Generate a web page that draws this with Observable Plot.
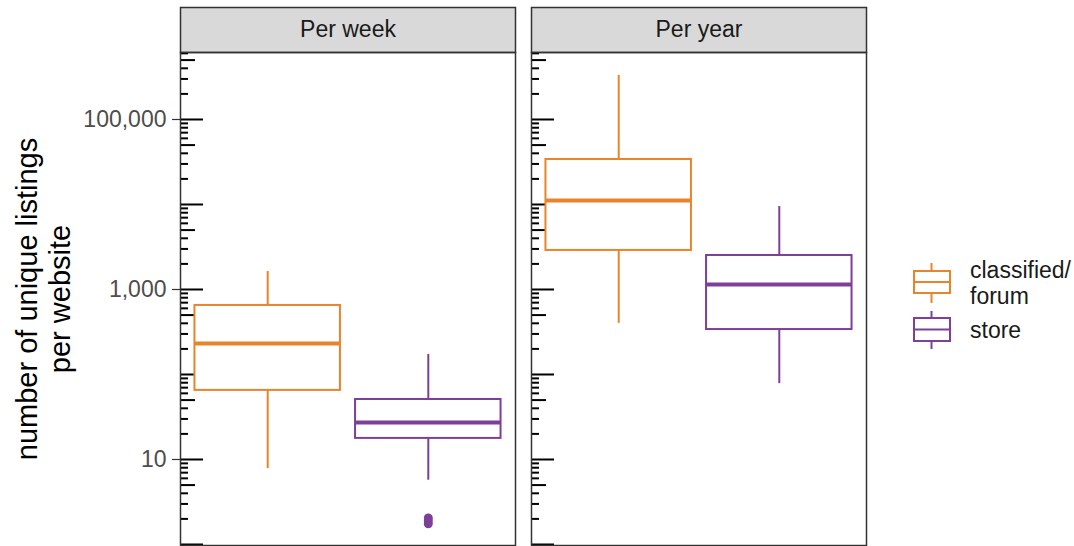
<!DOCTYPE html>
<html><head><meta charset="utf-8">
<script src="https://cdn.jsdelivr.net/npm/d3@7"></script>
<script src="https://cdn.jsdelivr.net/npm/@observablehq/plot@0.6"></script>
<style>
body{margin:0;background:#fff;font-family:"Liberation Sans",Arial,sans-serif;}
#wrap{position:relative;width:1074px;height:546px;overflow:hidden;}
#legend{position:absolute;left:900px;top:250px;}
</style></head><body><div id="wrap"></div>
<script>
// ---- data ----
const facetNames = ["Per week", "Per year"];
const siteTypes = ["classified/forum", "store"];
const legendLabels = ["classified/\nforum", "store"];
const typeColors = ["#E8842A", "#7E3F98"];

const boxPeriod = ["Per week", "Per week", "Per year", "Per year"];
const boxType = ["classified/forum", "store", "classified/forum", "store"];
const whiskerLow = [7.8, 5.7, 400, 78];
const q1 = [65, 17.7, 2880, 338];
const median = [232, 27.2, 11150, 1145];
const q3 = [649, 50.8, 33850, 2512];
const whiskerHigh = [1630, 172, 330000, 9460];

const outlierPeriod = ["Per week", "Per week", "Per week"];
const outlierType = ["store", "store", "store"];
const outlierValue = [1.75, 1.9, 2.05];

const yLabelTicks = [10, 1000, 100000];
const yTitle = "number of unique listings\nper website";
const yDomain = [0.973, 614000];

// log ticks (annotation_logticks style)
const logMajor = [1, 10, 100, 1000, 10000, 100000];
const logMid = [5, 50, 500, 5000, 50000, 500000];
const logMinor = [];
for (const p of logMajor) for (const m of [2, 3, 4, 6, 7, 8, 9]) if (m * p <= yDomain[1]) logMinor.push(m * p);

// ---- build table ----
const boxes = boxPeriod.map((p, i) => ({
  period: p, type: boxType[i], lo: whiskerLow[i], q1: q1[i], med: median[i], q3: q3[i], hi: whiskerHigh[i]
}));
const outliers = outlierValue.map((v, i) => ({period: outlierPeriod[i], type: outlierType[i], value: v}));

const width = 1074, height = 546, marginTop = 52, marginBottom = 1, marginLeft = 180, marginRight = 208;
const frameH = height - marginTop - marginBottom;
const stripH = 45;

const plot = Plot.plot({
  width, height, marginTop, marginBottom, marginLeft, marginRight,
  style: {fontFamily: '"Liberation Sans", Arial, sans-serif', fontSize: "23px", background: "white", color: "black"},
  fx: {domain: facetNames, paddingInner: 0.0456, paddingOuter: 0, round: false, axis: null, label: null},
  x: {domain: siteTypes, paddingInner: 0.094, paddingOuter: 0.09, align: 0.5, round: false, axis: null, label: null},
  y: {type: "log", domain: yDomain, label: null},
  color: {domain: siteTypes, range: typeColors},
  marks: [
    // strips
    Plot.frame({fill: "#D9D9D9", stroke: "#333333", strokeWidth: 1.5, insetTop: -stripH, insetBottom: frameH}),
    Plot.text(facetNames, {fx: d => d, text: d => d, frameAnchor: "top", dy: -stripH / 2, lineAnchor: "middle", fontSize: 23, fill: "#1A1A1A"}),
    // log ticks inside every panel
    Plot.axisY(logMajor, {anchor: "left", facetAnchor: null, tickSize: 23, dx: 23, tickFormat: () => "", label: null, stroke: "black", strokeWidth: 2}),
    Plot.axisY(logMid, {anchor: "left", facetAnchor: null, tickSize: 15, dx: 15, tickFormat: () => "", label: null, stroke: "black", strokeWidth: 2}),
    Plot.axisY(logMinor, {anchor: "left", facetAnchor: null, tickSize: 8, dx: 8, tickFormat: () => "", label: null, stroke: "black", strokeWidth: 2}),
    // labelled y axis
    Plot.axisY(yLabelTicks, {anchor: "left", tickSize: 8, tickPadding: 6, tickFormat: d3.format(","), label: null, stroke: "#333333", fill: "#4D4D4D", fontSize: 23, strokeWidth: 1.2}),
    // y title
    Plot.text([facetNames[0]], {fx: d => d, text: () => yTitle, frameAnchor: "left", textAnchor: "middle", rotate: -90, dx: -138, lineAnchor: "middle", lineHeight: 1.14, fontSize: 29, fill: "black"}),
    // whiskers
    Plot.ruleX(boxes, {fx: "period", x: "type", y1: "lo", y2: "q1", stroke: "type", strokeWidth: 2}),
    Plot.ruleX(boxes, {fx: "period", x: "type", y1: "q3", y2: "hi", stroke: "type", strokeWidth: 2}),
    // boxes
    Plot.barY(boxes, {fx: "period", x: "type", y1: "q1", y2: "q3", fill: "white", stroke: "type", strokeWidth: 2}),
    Plot.tickY(boxes, {fx: "period", x: "type", y: "med", stroke: "type", strokeWidth: 4}),
    // outliers
    Plot.dot(outliers, {fx: "period", x: "type", y: "value", fill: "type", r: 4.5}),
    // panel borders
    Plot.frame({stroke: "#333333", strokeWidth: 1.5})
  ]
});
const wrap = document.getElementById("wrap");
wrap.appendChild(plot);

// ---- legend ----
const lg = d3.select(wrap).append("svg").attr("id", "legend").attr("width", 174).attr("height", 110)
  .style("font-family", '"Liberation Sans", Arial, sans-serif');
const keys = [{y0: 21, y1: 43, w0: 13, w1: 53}, {y0: 68, y1: 91, w0: 61, w1: 99}];
const textY = [[28, 54], [88]];
siteTypes.forEach((t, i) => {
  const k = keys[i], c = typeColors[i];
  const g = lg.append("g").attr("stroke", c).attr("stroke-width", 2).attr("fill", "white");
  g.append("line").attr("x1", 31.5).attr("x2", 31.5).attr("y1", k.w0).attr("y2", k.y0);
  g.append("line").attr("x1", 31.5).attr("x2", 31.5).attr("y1", k.y1).attr("y2", k.w1);
  g.append("rect").attr("x", 14).attr("y", k.y0).attr("width", 36).attr("height", k.y1 - k.y0);
  g.append("line").attr("x1", 14).attr("x2", 50).attr("y1", (k.y0 + k.y1) / 2).attr("y2", (k.y0 + k.y1) / 2);
  const tx = lg.append("text").attr("font-size", 23).attr("fill", "#1A1A1A");
  legendLabels[i].split("\n").forEach((line, j) => {
    tx.append("tspan").attr("x", 70).attr("y", textY[i][j]).text(line);
  });
});
</script>
</body></html>
